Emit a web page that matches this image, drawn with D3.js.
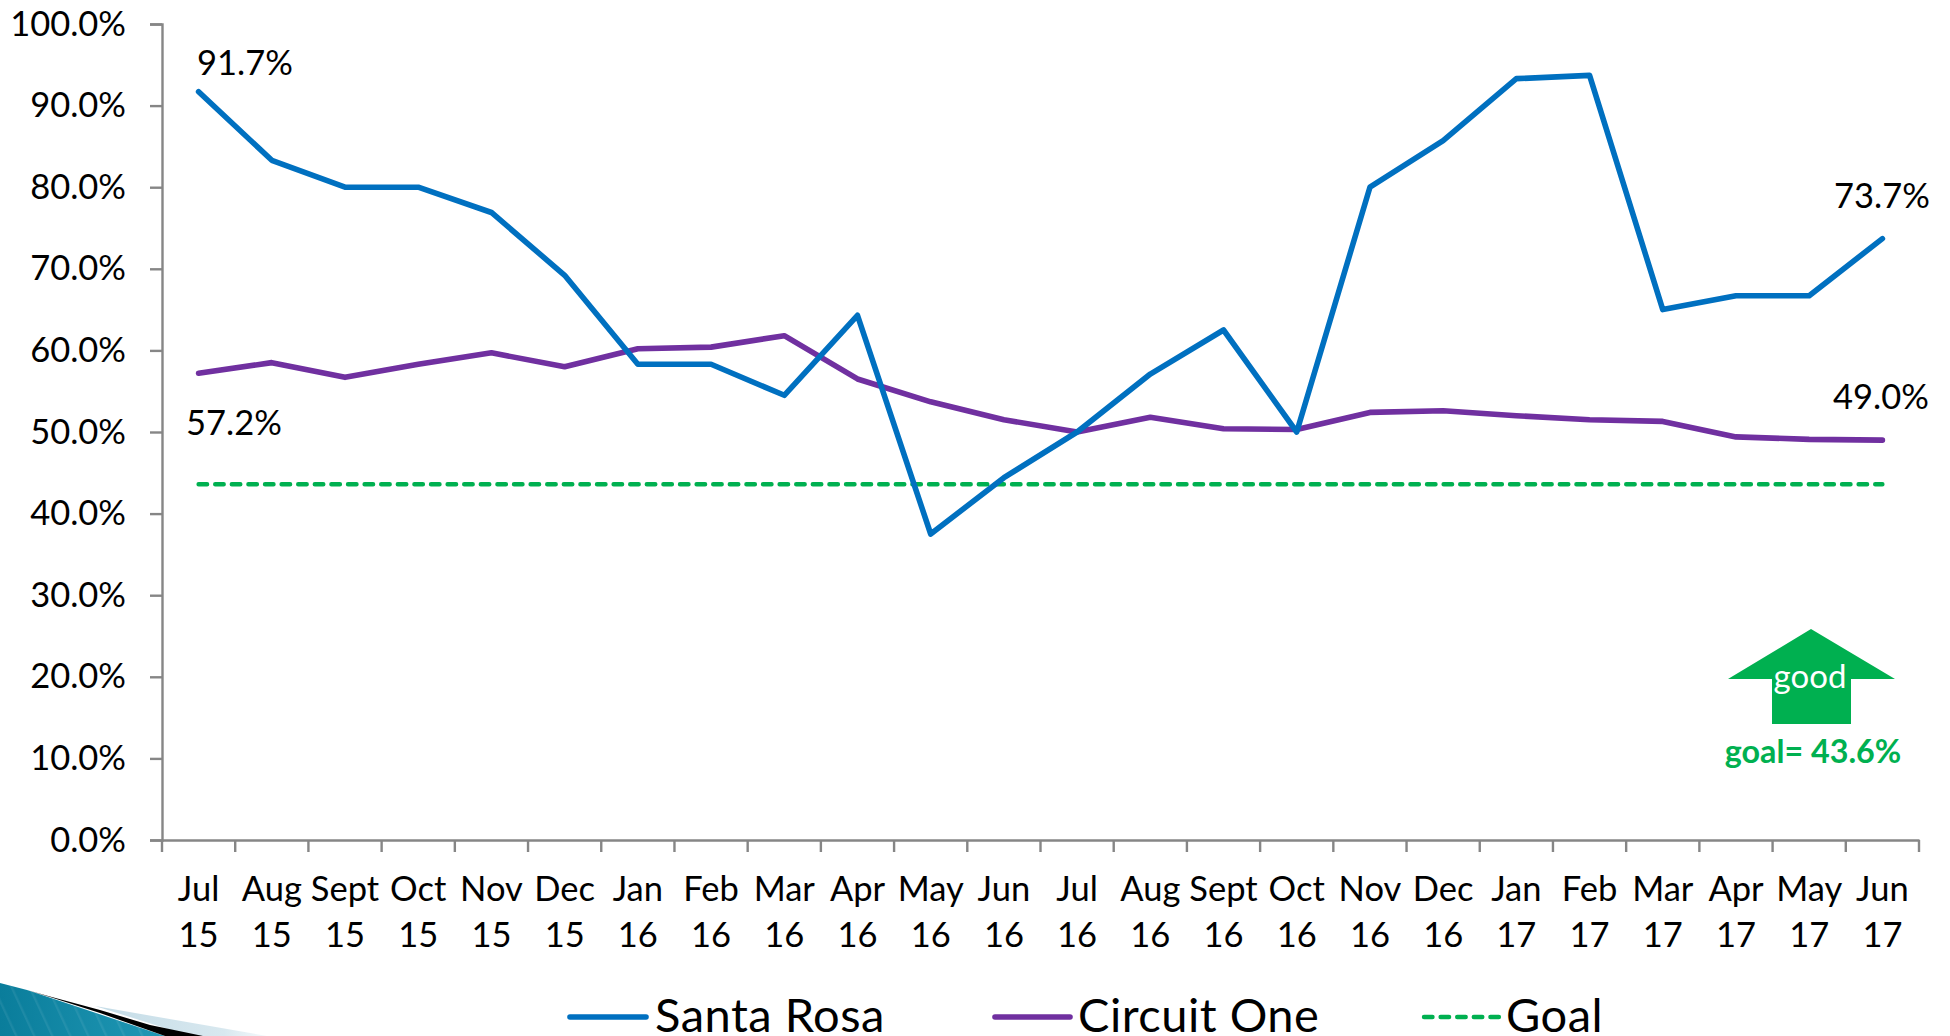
<!DOCTYPE html>
<html><head><meta charset="utf-8">
<script src="https://cdn.jsdelivr.net/npm/d3@7"></script>
<style>html,body{margin:0;padding:0;background:#fff;overflow:hidden}svg{display:block}text{font-family:Lato,"Open Sans",sans-serif;fill:#000}</style>
</head><body><div id="chart"></div>
<script>
const months=["Jul","Aug","Sept","Oct","Nov","Dec","Jan","Feb","Mar","Apr","May","Jun","Jul","Aug","Sept","Oct","Nov","Dec","Jan","Feb","Mar","Apr","May","Jun"];
const years=["15","15","15","15","15","15","16","16","16","16","16","16","16","16","16","16","16","16","17","17","17","17","17","17"];
const santaRosa=[91.7,83.3,80,80,76.9,69.2,58.3,58.3,54.5,64.3,37.5,44.4,50,57.1,62.5,50,80,85.7,93.3,93.7,65,66.7,66.7,73.7];
const circuitOne=[57.2,58.5,56.7,58.3,59.7,58.0,60.2,60.4,61.8,56.5,53.7,51.5,50.0,51.8,50.4,50.3,52.4,52.6,52.0,51.5,51.3,49.4,49.1,49.0];
const goalValue=43.6;
const goal=months.map(()=>goalValue);
const yTicks=[0,10,20,30,40,50,60,70,80,90,100];
const BLUE="#0070C0",PURPLE="#7030A0",GREEN="#00B050",GREY="#868686";
const W=1950,H=1036;
const svg=d3.select("#chart").append("svg").attr("width",W).attr("height",H);
const keys=months.map((_,i)=>i);
const x=d3.scaleBand().domain(keys).range([162,1919]);
const y=d3.scaleLinear().domain([0,100]).range([840,24]);
const px=i=>x(i)+x.bandwidth()/2;
const fs=34.5;
const LW=5.6, DASH="8.5 8.1", DW=4.4;

// decorative corner
const defs=svg.append("defs");
const lg=defs.append("linearGradient").attr("id","fade").attr("x1",0).attr("x2",1).attr("y1",0).attr("y2",0);
lg.append("stop").attr("offset",0).attr("stop-color","#c4dce7");
lg.append("stop").attr("offset",.75).attr("stop-color","#d8e8ef");
lg.append("stop").attr("offset",1).attr("stop-color","#f4f9fb");
const tg=defs.append("linearGradient").attr("id","teal").attr("x1",0).attr("x2",1).attr("y1",0).attr("y2",0);
tg.append("stop").attr("offset",0).attr("stop-color","#0a7d9b");
tg.append("stop").attr("offset",1).attr("stop-color","#2098b5");
const pat=defs.append("pattern").attr("id","stripes").attr("width",18).attr("height",60).attr("patternUnits","userSpaceOnUse").attr("patternTransform","skewX(25)");
pat.append("rect").attr("width",2.5).attr("height",60).attr("fill","#ffffff").attr("opacity",.07);
const corner=svg.append("g");
corner.append("polygon").attr("points","95,1006 267,1036 190,1036").attr("fill","url(#fade)");
const tealPts="0,983 27,990 165,1036 0,1036";
corner.append("polygon").attr("points",tealPts).attr("fill","url(#teal)");
corner.append("polygon").attr("points",tealPts).attr("fill","url(#stripes)");
corner.append("polygon").attr("points","27,990 50,996.5 100,1010 150,1025 203,1036 165,1036 100,1013 50,997").attr("fill","#000");

// axes
const yAxis=d3.axisLeft(y).tickValues(yTicks).tickSize(12).tickPadding(24).tickFormat(d=>d3.format(".1f")(d)+"%");
const gy=svg.append("g").attr("transform","translate(162,0)").call(yAxis);
const xAxis=d3.axisBottom(x).tickValues([]).tickSize(0);
const gx=svg.append("g").attr("transform","translate(0,840)").call(xAxis);
svg.append("g").selectAll("line").data(d3.range(months.length+1)).join("line")
 .attr("x1",i=>x.range()[0]+i*x.step()).attr("x2",i=>x.range()[0]+i*x.step())
 .attr("y1",840).attr("y2",852).attr("stroke",GREY).attr("stroke-width",2.4);
[gy,gx].forEach(g=>{g.selectAll(".domain").attr("stroke",GREY).attr("stroke-width",2.4);
 g.selectAll(".tick line").attr("stroke",GREY).attr("stroke-width",2.4);});
gy.selectAll("text").attr("font-size",fs).style("font-family","Lato").attr("fill","#000");

// category labels
const cat=svg.append("g").attr("text-anchor","middle").attr("font-size",fs);
cat.selectAll(".m").data(months).join("text").attr("class","m").attr("x",(d,i)=>px(i)).attr("y",901).text(d=>d);
cat.selectAll(".yr").data(years).join("text").attr("class","yr").attr("x",(d,i)=>px(i)).attr("y",947).text(d=>d);

// series
const line=d3.line().x((d,i)=>px(i)).y(d=>y(d));
const draw=(data,c,w,dash)=>svg.append("path").datum(data).attr("d",line).attr("fill","none").attr("stroke",c)
 .attr("stroke-width",w).attr("stroke-linecap","round").attr("stroke-linejoin","round").attr("stroke-dasharray",dash||null);
draw(goal,GREEN,DW,DASH);
draw(circuitOne,PURPLE,LW);
draw(santaRosa,BLUE,LW);

// end-point labels
const pct=v=>d3.format(".1f")(v)+"%";
const L=santaRosa.length-1;
[[santaRosa[0],245,75],[circuitOne[0],234,435],[santaRosa[L],1882,208],[circuitOne[L],1881,409]].forEach(([v,cx,by])=>{
 svg.append("text").attr("x",cx).attr("y",by).attr("text-anchor","middle").attr("font-size",fs).text(pct(v));
});

// good arrow
svg.append("polygon").attr("points","1811,629 1895,679 1851,679 1851,724 1772,724 1772,679 1728,679").attr("fill",GREEN);
svg.append("text").attr("x",1810).attr("y",688).attr("text-anchor","middle").attr("font-size",33).style("fill","#fff").text("good");
svg.append("text").attr("x",1813).attr("y",763).attr("text-anchor","middle").attr("font-size",32.3).attr("font-weight",700).style("fill",GREEN).text("goal= "+goalValue.toFixed(1)+"%");

// legend
const legend=[["Santa Rosa",BLUE,570,646,655,null,LW],["Circuit One",PURPLE,995,1070,1078,null,LW],["Goal",GREEN,1424,1499,1506,DASH,DW]];
legend.forEach(([t,c,a,b,tx,dash,w])=>{
 svg.append("line").attr("x1",a).attr("x2",b).attr("y1",1017).attr("y2",1017).attr("stroke",c).attr("stroke-width",w).attr("stroke-linecap","round").attr("stroke-dasharray",dash);
 svg.append("text").attr("x",tx).attr("y",1032).attr("font-size",47).attr("letter-spacing",.5).text(t);
});
</script></body></html>
